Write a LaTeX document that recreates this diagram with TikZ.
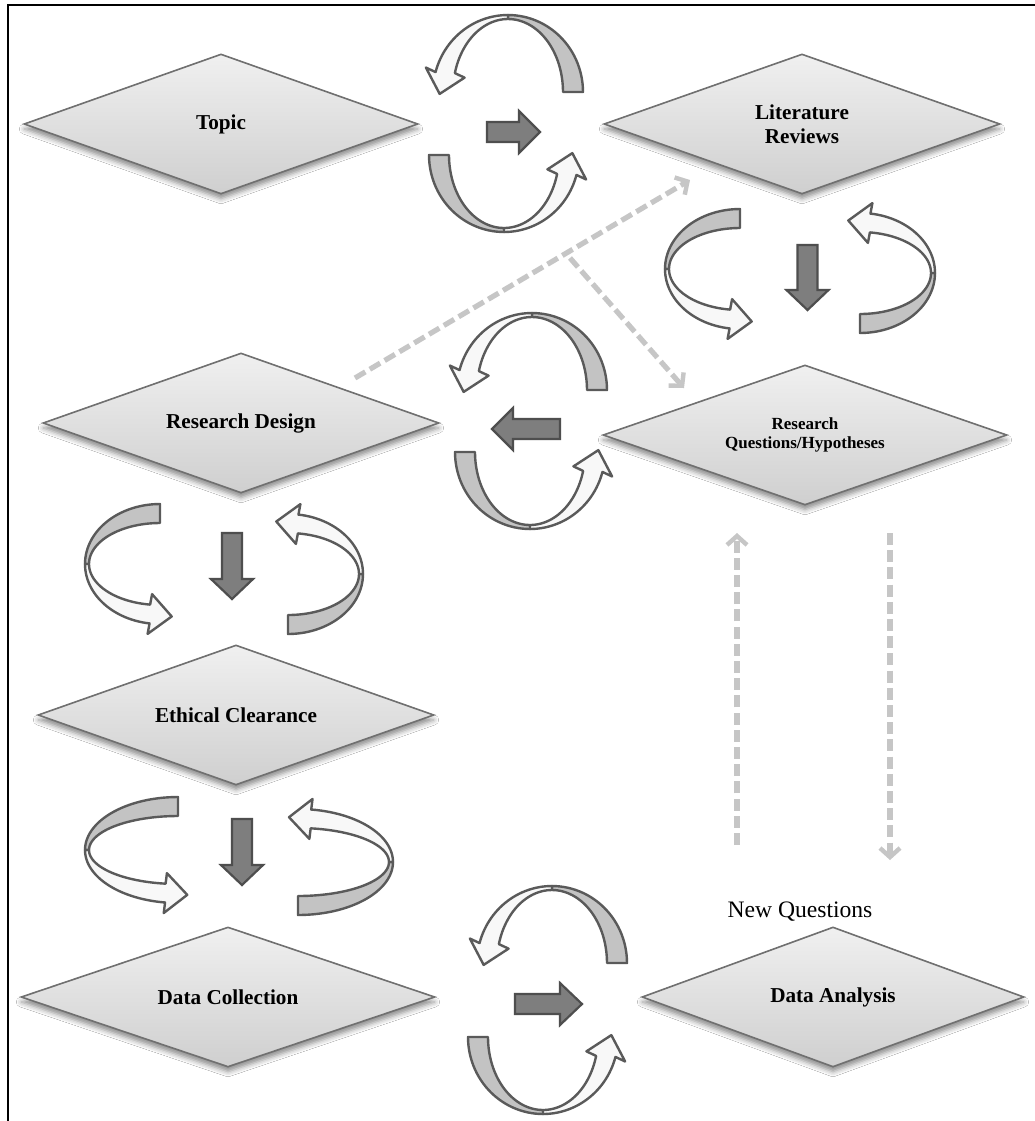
\documentclass[tikz,border=0pt]{standalone}
\usepackage{fontspec}
\setmainfont{Liberation Serif}
\usetikzlibrary{shapes.geometric,arrows.meta,shadows.blur,calc}
\definecolor{tailgrey}{HTML}{C3C3C3}
\definecolor{bandw}{HTML}{F8F8F8}
\definecolor{outl}{HTML}{5A5A5A}
\definecolor{blkfill}{HTML}{7E7E7E}
\definecolor{blkedge}{HTML}{4E4E4E}
\definecolor{dashc}{HTML}{C6C6C6}
\definecolor{diaedge}{HTML}{707070}
\definecolor{diatop}{HTML}{F0F0F0}
\definecolor{diabot}{HTML}{CFCFCF}
\tikzset{
  dia/.style={diamond, aspect=2.83, draw=diaedge, line width=0.8pt, top color=diatop, bottom color=diabot,
    minimum width=#1, minimum height=70pt, inner sep=0pt, align=center,
    font=\bfseries\fontsize{10.6}{12}\selectfont,
    blur shadow={shadow xshift=0pt, shadow yshift=-2.5pt, shadow blur radius=2.5pt, shadow opacity=45}},
  band/.style={draw=outl, line width=1.2pt, line join=round},
  blk/.style={draw=blkedge, fill=blkfill, line width=1.1pt, line join=miter},
  dashline/.style={draw=dashc, line width=2.6pt, dash pattern=on 6pt off 2.6pt,
    -{Straight Barb[length=4.5pt,width=10pt,line width=2.2pt]}},
  frameline/.style={draw=black, line width=0.8pt}
}
% circular ribbon arrow: #1,#2 centre, #3 rotation, #4 span radius, #5 depth, #6 band width, #7 end angle
\newcommand{\cycloop}[7]{%
\begin{scope}[shift={(#1,#2)},rotate=#3]
\pgfmathsetmacro{\cLa}{#4}%
\pgfmathsetmacro{\cLb}{#5}%
\pgfmathsetmacro{\cLw}{#6}%
\pgfmathsetmacro{\cLt}{#7}%
\pgfmathsetmacro{\cDx}{-\cLa*sin(\cLt)}%
\pgfmathsetmacro{\cDy}{-\cLb*cos(\cLt)}%
\pgfmathsetmacro{\cDn}{sqrt(\cDx*\cDx+\cDy*\cDy)}%
\pgfmathsetmacro{\cUx}{\cDx/\cDn}%
\pgfmathsetmacro{\cUy}{\cDy/\cDn}%
\pgfmathsetmacro{\cOx}{\cLa*cos(\cLt)}%
\pgfmathsetmacro{\cOy}{-\cLb*sin(\cLt)}%
\pgfmathsetmacro{\cIx}{(\cLa-\cLw)*cos(\cLt)}%
\pgfmathsetmacro{\cIy}{-(\cLb-4)*sin(\cLt)}%
\pgfmathsetmacro{\cMx}{(\cOx+\cIx)/2}%
\pgfmathsetmacro{\cMy}{(\cOy+\cIy)/2}%
\draw[band,fill=tailgrey] plot[domain=0:90,samples=30] ({\cLa*cos(\x)},{-\cLb*sin(\x)})
  -- plot[domain=90:0,samples=30] ({(\cLa-\cLw)*cos(\x)},{-(\cLb-4)*sin(\x)}) -- cycle;
\draw[band,fill=bandw] plot[domain=90:\cLt,samples=30] ({\cLa*cos(\x)},{-\cLb*sin(\x)})
  -- ({\cMx-\cUy*20},{\cMy+\cUx*20}) -- ({\cMx+\cUx*22},{\cMy+\cUy*22})
  -- ({\cMx+\cUy*20},{\cMy-\cUx*20}) -- (\cIx,\cIy)
  -- plot[domain=\cLt:90,samples=30] ({(\cLa-\cLw)*cos(\x)},{-(\cLb-4)*sin(\x)}) -- cycle;
\end{scope}}
% block arrow: #1,#2 start, #3 rotation, #4 length, #5 head length
\newcommand{\blockarr}[5]{%
\draw[blk, shift={(#1,#2)}, rotate=#3] (0,-10) -- ({#4-#5},-10) -- ({#4-#5},-21) -- (#4,0)
  -- ({#4-#5},21) -- ({#4-#5},10) -- (0,10) -- cycle;}
\begin{document}
\begin{tikzpicture}[x=0.5pt,y=-0.5pt]
\useasboundingbox (0,0) rectangle (1035,1121);
\fill[white] (0,0) rectangle (1035,1121);
% frame
\draw[frameline] (8,1121) -- (8,5) -- (1035,5);

% dashed connectors (behind)
\coordinate (d1s) at (355,378);
\coordinate (d1e) at (690,180);
\coordinate (d2s) at (570,258);
\coordinate (d2e) at (684,388);
\coordinate (d3s) at (737,845);
\coordinate (d3e) at (737,533);
\coordinate (d4s) at (890,533);
\coordinate (d4e) at (890,860);
\draw[dashline] (d1s) -- (d1e);
\draw[dashline] (d2s) -- (d2e);
\draw[dashline] (d3s) -- (d3e);
\draw[dashline] (d4s) -- (d4e);

% diamonds
\node[dia=197pt] (topic) at (221,124) {Topic};
\node[dia=198pt] (litrev) at (802,124) {Literature\\Reviews};
\node[dia=202pt, font=\bfseries\fontsize{8.5}{9.6}\selectfont] (rq) at (805,435) {Research\\Questions/Hypotheses};
\node[dia=198pt] (rd) at (241,423) {Research Design};
\node[dia=198pt] (ec) at (236,715) {Ethical Clearance};
\node[dia=207pt] (dc) at (228,997) {Data Collection};
\node[dia=191pt] (da) at (833,997) {Data Analysis};
\node[font=\fontsize{11.8}{13}\selectfont] (newq) at (800,912) {New Questions};

% Topic -> Literature Reviews
\cycloop{508}{92}{0}{75}{77}{20}{165}
\cycloop{504}{155}{180}{75}{77}{20}{165}
\blockarr{487}{132}{0}{53}{21}
% Literature Reviews -> Research Questions
\cycloop{740}{269}{90}{60}{75}{19}{172}
\cycloop{860}{273}{-90}{60}{75}{19}{172}
\blockarr{807.5}{245}{-90}{65}{20}
% Research Questions -> Research Design
\cycloop{532}{390}{0}{75}{77}{20}{165}
\cycloop{530}{452}{180}{75}{77}{20}{165}
\blockarr{560}{429}{180}{68}{21}
% Research Design -> Ethical Clearance
\cycloop{160}{564}{90}{60}{75}{19}{172}
\cycloop{288}{574}{-90}{60}{75}{19}{172}
\blockarr{232}{533}{-90}{66}{20}
% Ethical Clearance -> Data Collection
\cycloop{178}{850}{90}{53}{93}{19}{172}
\cycloop{298}{862}{-90}{53}{95}{19}{172}
\blockarr{242}{819}{-90}{66}{20}
% Data Collection -> Data Analysis
\cycloop{552}{963}{0}{75}{77}{20}{165}
\cycloop{543}{1037}{180}{75}{77}{20}{165}
\blockarr{515}{1004}{0}{67}{22}
\end{tikzpicture}
\end{document}
